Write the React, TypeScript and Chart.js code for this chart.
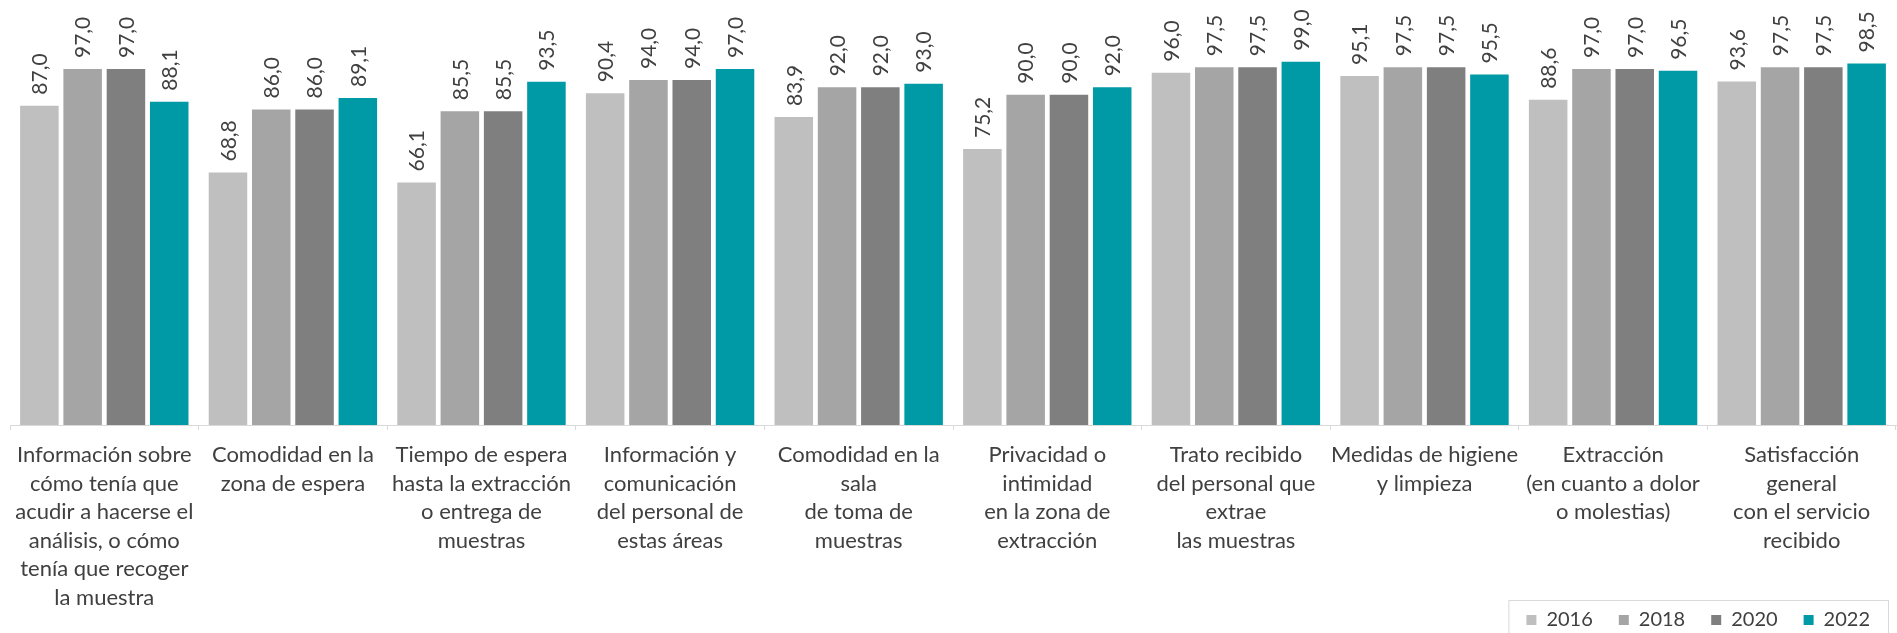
import React, { useEffect, useRef } from "react";
import { Chart, registerables } from "chart.js";

Chart.register(...registerables);

const categories: string[][] = [
  ["Información sobre", "cómo tenía que", "acudir a hacerse el", "análisis, o cómo", "tenía que recoger", "la muestra"],
  ["Comodidad en la", "zona de espera"],
  ["Tiempo de espera", "hasta la extracción", "o entrega de", "muestras"],
  ["Información y", "comunicación", "del personal de", "estas áreas"],
  ["Comodidad en la", "sala", "de toma de", "muestras"],
  ["Privacidad o", "intimidad", "en la zona de", "extracción"],
  ["Trato recibido", "del personal que", "extrae", "las muestras"],
  ["Medidas de higiene", "y limpieza"],
  ["Extracción", "(en cuanto a dolor", "o molestias)"],
  ["Satisfacción", "general", "con el servicio", "recibido"],
];

const seriesNames = ["2016", "2018", "2020", "2022"];
const values2016 = [87.0, 68.8, 66.1, 90.4, 83.9, 75.2, 96.0, 95.1, 88.6, 93.6];
const values2018 = [97.0, 86.0, 85.5, 94.0, 92.0, 90.0, 97.5, 97.5, 97.0, 97.5];
const values2020 = [97.0, 86.0, 85.5, 94.0, 92.0, 90.0, 97.5, 97.5, 97.0, 97.5];
const values2022 = [88.1, 89.1, 93.5, 97.0, 93.0, 92.0, 99.0, 95.5, 96.5, 98.5];
const seriesColors = ["#BFBFBF", "#A5A5A5", "#7F7F7F", "#0099A6"];

const valueLabels = {
  id: "valueLabels",
  afterDatasetsDraw(chart: any) {
    const ctx = chart.ctx;
    ctx.save();
    ctx.fillStyle = "#404040";
    ctx.font = "21px Lato, 'Noto Sans', sans-serif";
    chart.data.datasets.forEach((ds: any, i: number) => {
      const meta = chart.getDatasetMeta(i);
      meta.data.forEach((el: any, j: number) => {
        const v = ds.data[j] as number;
        const txt = v.toFixed(1).replace(".", ",");
        ctx.save();
        ctx.translate(el.x, el.y - 11);
        ctx.rotate(-Math.PI / 2);
        ctx.textAlign = "left";
        ctx.textBaseline = "middle";
        ctx.fillText(txt, 0, 1);
        ctx.restore();
      });
    });
    ctx.restore();
  },
};

// let the multi-line category labels run below the axis box (over the legend row)
const extendLabelArea = {
  id: "extendLabelArea",
  afterLayout(chart: any) {
    const x = chart.scales.x;
    if (x) x.bottom = chart.height;
  },
};

const legendBorder = {
  id: "legendBorder",
  afterDraw(chart: any) {
    const lg = chart.legend;
    if (!lg || !lg.legendHitBoxes || !lg.legendHitBoxes.length) return;
    const boxes = lg.legendHitBoxes;
    const first = boxes[0];
    const last = boxes[boxes.length - 1];
    const left = first.left - 18;
    const right = last.left + last.width + 18;
    const top = first.top - 10;
    const ctx = chart.ctx;
    ctx.save();
    ctx.strokeStyle = "#D9D9D9";
    ctx.lineWidth = 1;
    ctx.strokeRect(left + 0.5, top + 0.5, right - left, chart.height - top + 10);
    ctx.restore();
  },
};

export default function App() {
  const ref = useRef<HTMLCanvasElement | null>(null);
  useEffect(() => {
    document.body.style.margin = "0";
    const canvas = ref.current;
    if (!canvas) return;
    const chart = new Chart(canvas, {
      type: "bar",
      data: {
        labels: categories,
        datasets: [values2016, values2018, values2020, values2022].map((d, i) => ({
          label: seriesNames[i],
          data: d,
          backgroundColor: seriesColors[i],
          borderWidth: 0,
          categoryPercentage: 0.918,
          barPercentage: 0.89,
        })),
      },
      options: {
        responsive: false,
        animation: false,
        layout: { padding: { left: 10, right: 1, top: 58, bottom: -7 } },
        scales: {
          x: {
            grid: {
              display: true,
              offset: true,
              drawOnChartArea: false,
              drawTicks: true,
              tickLength: 5,
              color: "#D9D9D9",
            },
            border: { display: true, color: "#D9D9D9", width: 1 },
            ticks: {
              autoSkip: false,
              maxRotation: 0,
              minRotation: 0,
              padding: 11,
              color: "#404040",
              font: { family: "Lato, 'Noto Sans', sans-serif", size: 22, lineHeight: "28.5px" },
            },
            afterFit: (scale: any) => {
              scale.height = 159;
            },
          },
          y: {
            display: false,
            min: 0,
            max: 100,
          },
        },
        plugins: {
          legend: {
            display: true,
            position: "bottom",
            align: "end",
            labels: {
              boxWidth: 10,
              boxHeight: 10,
              padding: 26,
              color: "#404040",
              font: { family: "Lato, 'Noto Sans', sans-serif", size: 20 },
            },
          },
          tooltip: { enabled: false },
        },
      },
      plugins: [extendLabelArea, valueLabels, legendBorder],
    });
    return () => chart.destroy();
  }, []);
  return (
    <div style={{ width: 1897, height: 633 }}>
      <canvas ref={ref} width={1897} height={633} />
    </div>
  );
}
